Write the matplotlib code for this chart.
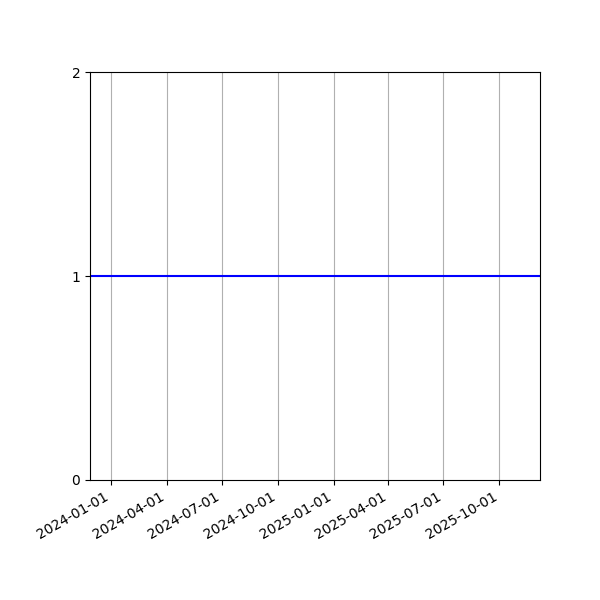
import matplotlib
matplotlib.use("Agg")
import matplotlib.pyplot as plt
import matplotlib.dates as mdates
import numpy as np

dates = np.array(["2023-11-27", "2025-12-07"], dtype="datetime64[D]")
values = [1, 1]
yticks = [0, 1, 2]

fig, ax = plt.subplots(figsize=(6, 6), dpi=100)
ax.plot(dates, values, color="blue", linewidth=1.5)
ax.set_xlim(dates[0], dates[-1])
ax.set_ylim(0, 2)
ax.set_yticks(yticks)
ax.xaxis.set_major_locator(mdates.MonthLocator(bymonth=[1, 4, 7, 10]))
ax.xaxis.set_major_formatter(mdates.DateFormatter("%Y-%m-%d"))
ax.grid(True, axis="x")
fig.autofmt_xdate()
fig.subplots_adjust(left=0.15, right=0.9, top=0.88, bottom=0.2)
fig.savefig("out.png")
